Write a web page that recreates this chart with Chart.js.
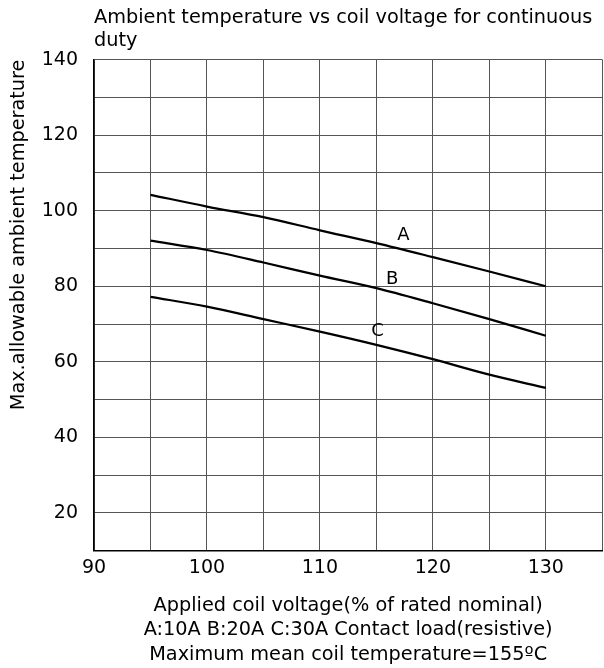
<!DOCTYPE html>
<html>
<head>
<meta charset="utf-8">
<script src="https://cdn.jsdelivr.net/npm/chart.js@4.4.1/dist/chart.umd.min.js"></script>
<style>
  html, body { margin: 0; padding: 0; background: #fff; }
  #wrap { width: 604px; height: 668px; }
</style>
</head>
<body>
<div id="wrap"><canvas id="chart" width="604" height="668"></canvas></div>
<script>
// coil voltage in % of rated nominal
const voltages = [95, 100, 105, 110, 115, 120, 125, 130];
// max allowable ambient temperature per contact load
const curveA = [104.2, 101.1, 98.3, 94.8, 91.4, 87.7, 83.9, 80.0];
const curveB = [92.1, 89.6, 86.3, 82.8, 79.5, 75.5, 71.3, 66.9];
const curveC = [77.2, 74.6, 71.3, 68.0, 64.5, 60.7, 56.6, 53.1];
const curveNames = ['A', 'B', 'C'];
// where the letter sits, in data units (x, y)
const labelX = [117.4, 116.4, 115.1];
const labelY = [93.4, 81.8, 68.0];

const FONT = 'DejaVu Sans';

const toPoints = ys => voltages.map((v, i) => ({ x: v, y: ys[i] }));

const curveLabels = {
    id: 'curveLabels',
    afterDatasetsDraw(chart) {
        const { ctx, scales: { x, y } } = chart;
        ctx.save();
        ctx.fillStyle = '#000';
        ctx.font = '18px "' + FONT + '"';
        ctx.textAlign = 'center';
        ctx.textBaseline = 'middle';
        curveNames.forEach((n, i) => {
            ctx.fillText(n, x.getPixelForValue(labelX[i]), y.getPixelForValue(labelY[i]));
        });
        ctx.restore();
    }
};

const lineStyle = { borderColor: '#000', borderWidth: 2.2, pointRadius: 0, tension: 0.4, cubicInterpolationMode: 'monotone', fill: false };

new Chart(document.getElementById('chart'), {
    type: 'line',
    data: {
        datasets: [
            { label: 'A', data: toPoints(curveA), ...lineStyle },
            { label: 'B', data: toPoints(curveB), ...lineStyle },
            { label: 'C', data: toPoints(curveC), ...lineStyle }
        ]
    },
    options: {
        responsive: false,
        animation: false,
        layout: { padding: { left: 0, right: 1.7, top: 0, bottom: 0 } },
        plugins: {
            legend: { display: false },
            tooltip: { enabled: false },
            title: {
                display: true,
                fullSize: false,
                align: 'start',
                text: ['Ambient temperature vs coil voltage for continuous', 'duty'],
                color: '#000',
                font: { family: FONT, size: 19.3, weight: 'normal', lineHeight: 1.22 },
                padding: { top: 6, bottom: 6.5 }
            }
        },
        scales: {
            x: {
                type: 'linear',
                min: 90, max: 135,
                afterFit: s => { s.height = 117.3; s.paddingLeft = 0; s.paddingRight = 0; },
                ticks: {
                    stepSize: 5,
                    color: '#000',
                    padding: 6,
                    maxRotation: 0,
                    autoSkip: false,
                    font: { family: FONT, size: 19 },
                    callback: v => (v % 10 === 0 && v < 135) ? String(v) : ''
                },
                grid: { color: '#555', lineWidth: 1, drawTicks: false },
                border: { color: '#000', width: 1.5 },
                title: {
                    display: true,
                    text: ['Applied coil voltage(% of rated nominal)', 'A:10A B:20A C:30A Contact load(resistive)', 'Maximum mean coil temperature=155ºC'],
                    color: '#000',
                    font: { family: FONT, size: 19.3, lineHeight: 1.27 },
                    padding: { top: 0, bottom: 1 }
                }
            },
            y: {
                min: 10, max: 140,
                afterFit: s => { s.width = 94; },
                ticks: {
                    stepSize: 10,
                    color: '#000',
                    padding: 16,
                    font: { family: FONT, size: 19 },
                    callback: v => (v % 20 === 0) ? String(v) : ''
                },
                grid: { color: '#555', lineWidth: 1, drawTicks: false },
                border: { color: '#000', width: 1.5 },
                title: {
                    display: true,
                    align: 'end',
                    text: 'Max.allowable ambient temperature',
                    color: '#000',
                    font: { family: FONT, size: 19.3, lineHeight: 1.2 },
                    padding: { top: 7.5, bottom: 0 }
                }
            }
        }
    },
    plugins: [curveLabels]
});
</script>
</body>
</html>
